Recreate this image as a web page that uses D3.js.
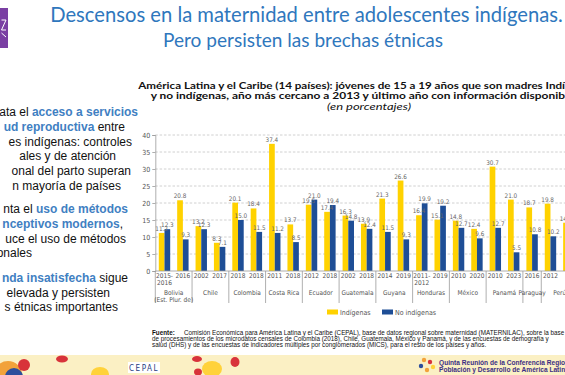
<!DOCTYPE html>
<html><head><meta charset="utf-8">
<script src="https://cdn.jsdelivr.net/npm/d3@7"></script>
<style>body{margin:0;background:#fff;overflow:hidden}svg{display:block}</style>
</head><body>
<svg id="c" width="565" height="375"></svg>
<script>
// ---------- DATA ----------
const countries = ["Bolivia\n(Est. Plur. de)", "Chile", "Colombia", "Costa Rica", "Ecuador", "Guatemala",
  "Guyana", "Honduras", "México", "Panamá", "Paraguay", "Perú"];
const countryYears = [["2015-2016", "2016"], ["2002", "2017"], ["2018", "2018"], ["2011", "2018"],
  ["2012", "2018"], ["2002", "2018"], ["2014", "2019"], ["2011-2012", "2019"], ["2010", "2020"],
  ["2010", "2023"], ["2016"], ["2012", ""]];
const indigenas   = [11.2, 20.8, 13.2, 8.3, 20.1, 18.4, 37.4, 13.7, 19.5, 17.4, 16.3, 13.9, 21.3, 26.6,
  16.4, 15.1, 14.8, 12.4, 30.7, 21.0, 18.7, 19.8, 14.2];
const noIndigenas = [12.3, 9.3, 12.3, 7.1, 15.0, 11.5, 11.2, 8.5, 21.0, 19.4, 14.8, 12.4, 11.5, 9.3,
  19.9, 19.2, 12.7, 9.6, 12.7, 5.5, 10.8, 10.2, null];
const seriesNames = ["Indígenas", "No indígenas"];
const yTicks = [0, 5, 10, 15, 20, 25, 30, 35, 40];

const titleLines = ["Descensos en la maternidad entre adolescentes indígenas.", "Pero persisten las brechas étnicas"];
const subtitle1 = "América Latina y el Caribe (14 países):  jóvenes de 15 a 19 años que son madres Indígenas";
const subtitle2 = "y no indígenas, año más cercano a 2013 y último año con información disponible";
const subtitle3 = "(en porcentajes)";
const sourceLines = [
  "Comisión Económica para América Latina y el Caribe (CEPAL), base de datos regional sobre maternidad (MATERNILAC), sobre la base",
  "de procesamientos de los microdatos censales de Colombia (2018), Chile, Guatemala, México y Panamá, y de las encuestas de demografía y",
  "salud (DHS) y de las encuestas de indicadores múltiples por conglomerados (MICS), para el resto de los países y años."
];
const bullets = [
  [["ata el ", 0], ["acceso a servicios", 1]],
  [["ud reproductiva", 1], [" entre", 0]],
  [["es indígenas: controles", 0]],
  [["ales y de atención", 0]],
  [["onal del parto superan", 0]],
  [["n mayoría de países", 0]],
  [["nta el ", 0], ["uso de métodos", 1]],
  [["nceptivos modernos", 1], [",", 0]],
  [["uce el uso de métodos", 0]],
  [["onales", 0]],
  [["nda insatisfecha", 1], [" sigue", 0]],
  [["elevada y persisten", 0]],
  [["s étnicas importantes", 0]]
];

// ---------- LAYOUT ----------
const svg = d3.select("#c");
const YEL = "#FFD200", BLU = "#1E4E96", NARROW = "'Liberation Sans Narrow','DejaVu Sans Condensed',sans-serif";
const slots = [];
countries.forEach((c, ci) => countryYears[ci].forEach(yr => slots.push({c: ci, yr})));
slots.forEach((s, i) => { s.i = i; s.v = [indigenas[i], noIndigenas[i]]; });

const step = 18.38, x0Left = 155.3;
const x0 = d3.scaleBand().domain(d3.range(slots.length)).range([x0Left, x0Left + step * slots.length]).padding(0);
const bw = 5.7;
const x1 = d3.scaleBand().domain([0, 1]).range([(step - 2 * bw) / 2, (step + 2 * bw) / 2]).padding(0);
const y = d3.scaleLinear().domain([0, 40]).range([271, 135]);
const xRight = x0.range()[1];

function fit(sel, target) {
  const fs = parseFloat(sel.attr("font-size"));
  sel.attr("font-size", (fs * target / sel.node().getComputedTextLength()).toFixed(2));
}
function stretch(sel, target, nChars) {
  const node = sel.node();
  const w = nChars ? node.getSubStringLength(0, nChars) : node.getComputedTextLength();
  const full = node.getComputedTextLength();
  sel.attr("textLength", (full * target / w).toFixed(1)).attr("lengthAdjust", "spacingAndGlyphs");
}

// purple logo
svg.append("rect").attr("x", 0).attr("y", 8).attr("width", 8).attr("height", 40).attr("fill", "#7A3FA3");
svg.append("path").attr("d", "M1.5,20 L6,20 L1.5,30 L6,30 M1.5,33 L6,37").attr("stroke", "#fff").attr("stroke-width", 1).attr("fill", "none");

// title
const t1 = svg.append("text").attr("x", 306.5).attr("y", 22).attr("text-anchor", "middle")
  .attr("font-family", "Lato, 'Open Sans', sans-serif").attr("font-size", 18).attr("fill", "#2F77BD").text(titleLines[0]);
fit(t1, 513);
const t2 = svg.append("text").attr("x", 303).attr("y", 47).attr("text-anchor", "middle")
  .attr("font-family", "Lato, 'Open Sans', sans-serif").attr("font-size", 18).attr("fill", "#2F77BD").text(titleLines[1]);
fit(t2, 280);

// subtitle
const s1 = svg.append("text").attr("x", 138.3).attr("y", 88.5).attr("font-family", "Lato, sans-serif")
  .attr("font-weight", 700).attr("font-size", 9.6).attr("fill", "#111").text(subtitle1);
stretch(s1, 426.7, subtitle1.indexOf("Indígenas") + 3);
const s2 = svg.append("text").attr("x", 150.7).attr("y", 99.3).attr("font-family", "Lato, sans-serif")
  .attr("font-weight", 700).attr("font-size", 9.6).attr("fill", "#111").text(subtitle2);
stretch(s2, 414.3, subtitle2.indexOf("disponible") + 8);
const s3 = svg.append("text").attr("x", 369).attr("y", 109.5).attr("text-anchor", "middle").attr("font-family", "Lato, sans-serif")
  .attr("font-style", "italic").attr("font-size", 9.6).attr("fill", "#111").text(subtitle3);
stretch(s3, 84);

// left bullets
const bulletRight = [138, 125, 132, 116, 131, 121, 128, 123, 126, 32, 128, 110, 118];
const bulletY = [116, 131, 145.5, 160, 175, 189.5, 213, 228, 243, 257, 281.5, 296.5, 311];
bullets.forEach((parts, i) => {
  const t = svg.append("text").attr("x", bulletRight[i]).attr("y", bulletY[i]).attr("text-anchor", "end")
    .attr("font-family", "'Liberation Sans', Arial, sans-serif").attr("font-size", 12).attr("fill", "#111");
  parts.forEach(([s, b]) => t.append("tspan").text(s)
    .attr("font-weight", b ? 700 : 400).attr("fill", b ? "#3F80C2" : "#111"));
});

// gridlines
const g = svg.append("g");
g.selectAll("line.grid").data(yTicks.filter(d => d > 0)).join("line").attr("class", "grid")
  .attr("x1", x0Left).attr("x2", xRight).attr("y1", d => y(d)).attr("y2", d => y(d))
  .attr("stroke", "#c4c4c4").attr("stroke-width", 0.8).attr("stroke-dasharray", "2.5,1.8");

// y axis
const ya = g.append("g").attr("transform", `translate(${x0Left},0)`)
  .call(d3.axisLeft(y).tickValues(yTicks).tickSize(3).tickPadding(2).tickFormat(d3.format("d")));
ya.selectAll("path,line").attr("stroke", "#9a9a9a").attr("stroke-width", 0.8);
ya.selectAll("text").attr("font-family", NARROW).attr("font-size", 7).attr("fill", "#555");

// bars
const groups = g.selectAll("g.slot").data(slots).join("g").attr("class", "slot")
  .attr("transform", d => `translate(${x0(d.i)},0)`);
groups.selectAll("rect").data(d => d.v.map((v, k) => ({v, k})).filter(e => e.v != null)).join("rect")
  .attr("x", e => x1(e.k)).attr("width", x1.bandwidth())
  .attr("y", e => y(e.v)).attr("height", e => y(0) - y(e.v))
  .attr("fill", e => e.k === 0 ? YEL : BLU);
groups.selectAll("text.val").data(d => d.v.map((v, k) => ({v, k})).filter(e => e.v != null)).join("text").attr("class", "val")
  .attr("x", e => x1(e.k) + x1.bandwidth() / 2).attr("y", e => y(e.v) - 2).attr("text-anchor", "middle")
  .attr("font-family", NARROW).attr("font-size", 6.3).attr("fill", "#666").text(e => d3.format(".1f")(e.v));

// x axis line
g.append("line").attr("x1", x0Left).attr("x2", xRight).attr("y1", y(0)).attr("y2", y(0)).attr("stroke", "#9a9a9a").attr("stroke-width", 0.8);

// year labels
groups.each(function (d) {
  const parts = d.yr.includes("-") ? [d.yr.split("-")[0] + "-", d.yr.split("-")[1]] : [d.yr];
  d3.select(this).selectAll("text.yr").data(parts).join("text").attr("class", "yr")
    .attr("x", step / 2).attr("y", (p, j) => 277.5 + j * 7).attr("text-anchor", "middle")
    .attr("font-family", NARROW).attr("font-size", 6.5).attr("fill", "#555").text(p => p);
});

// country separators & labels
let acc = 0;
const bounds = [0];
countryYears.forEach(ys => { acc += ys.length; bounds.push(acc); });
g.selectAll("line.sep").data(bounds).join("line").attr("class", "sep")
  .attr("x1", b => x0Left + b * step).attr("x2", b => x0Left + b * step)
  .attr("y1", y(0)).attr("y2", 303).attr("stroke", "#9a9a9a").attr("stroke-width", 0.8);
countries.forEach((c, ci) => {
  const cx = x0Left + (bounds[ci] + bounds[ci + 1]) / 2 * step;
  c.split("\n").forEach((line, j) => {
    g.append("text").attr("x", cx).attr("y", 295 + j * 6.5).attr("text-anchor", "middle")
      .attr("font-family", NARROW).attr("font-size", 6.5).attr("fill", "#555").text(line);
  });
});

// legend
const lg = svg.append("g");
[[327, "Indígenas"], [382, "No indígenas"]].forEach(([lx, name], k) => {
  lg.append("rect").attr("x", lx).attr("y", 309.5).attr("width", 11).attr("height", 5).attr("fill", k === 0 ? YEL : BLU);
  lg.append("text").attr("x", lx + 13).attr("y", 314.5).attr("font-family", NARROW).attr("font-size", 7)
    .attr("fill", "#555").text(seriesNames[k]);
});

// source
const src = svg.append("g").attr("font-family", "'Liberation Sans', Arial, sans-serif").attr("font-size", 6.3).attr("fill", "#111");
src.append("text").attr("x", 152).attr("y", 335).attr("font-weight", 700).text("Fuente:");
src.append("text").attr("x", 184).attr("y", 335).text(sourceLines[0]);
src.append("text").attr("x", 152).attr("y", 341).text(sourceLines[1]);
src.append("text").attr("x", 152).attr("y", 347).text(sourceLines[2]);

// bottom band
const band = svg.append("g");
band.append("rect").attr("x", 0).attr("y", 355).attr("width", 565).attr("height", 20).attr("fill", "#FBF0C4");
band.append("circle").attr("cx", 8).attr("cy", 375).attr("r", 14).attr("fill", "#F2A23A");
band.append("circle").attr("cx", 14).attr("cy", 377).attr("r", 9).attr("fill", "#2D4E9C");
band.append("circle").attr("cx", 24).attr("cy", 365).attr("r", 6).attr("fill", "#D8333A");
band.append("ellipse").attr("cx", 62).attr("cy", 359).attr("rx", 6).attr("ry", 3.5).attr("fill", "#D8333A");
band.append("ellipse").attr("cx", 100).attr("cy", 374).attr("rx", 9).attr("ry", 7).attr("fill", "#FFD23A");
band.append("ellipse").attr("cx", 197).attr("cy", 359).attr("rx", 5).attr("ry", 3).attr("fill", "#D8333A");
band.append("ellipse").attr("cx", 212).attr("cy", 369).attr("rx", 10).attr("ry", 8).attr("fill", "#FFD23A");
band.append("ellipse").attr("cx", 235).attr("cy", 362).attr("rx", 4.5).attr("ry", 5).attr("fill", "#D8333A");
band.append("ellipse").attr("cx", 198).attr("cy", 372).attr("rx", 4).attr("ry", 3.5).attr("fill", "#D8333A");
band.append("rect").attr("x", 128).attr("y", 362).attr("width", 32).attr("height", 11).attr("fill", "#fff");
band.append("text").attr("x", 144).attr("y", 371).attr("text-anchor", "middle").attr("font-family", NARROW)
  .attr("font-size", 8).attr("letter-spacing", 1.5).attr("fill", "#1F3E80").text("CEPAL");
[[424, 360, "#F2A23A"], [430, 362, "#D8333A"], [421, 366, "#2D4E9C"], [427, 370, "#F2A23A"], [433, 367, "#FFD23A"]]
  .forEach(([cx, cy, col]) => band.append("circle").attr("cx", cx).attr("cy", cy).attr("r", 2.2).attr("fill", col));
band.append("text").attr("x", 439).attr("y", 365).attr("font-family", "'Liberation Sans', Arial, sans-serif")
  .attr("font-weight", 700).attr("font-size", 6.6).attr("fill", "#3B2E83").text("Quinta Reunión de la Conferencia Regional");
band.append("text").attr("x", 439).attr("y", 372).attr("font-family", "'Liberation Sans', Arial, sans-serif")
  .attr("font-weight", 700).attr("font-size", 6.6).attr("fill", "#3B2E83").text("Población y Desarrollo de América Latina");
</script>
</body></html>
